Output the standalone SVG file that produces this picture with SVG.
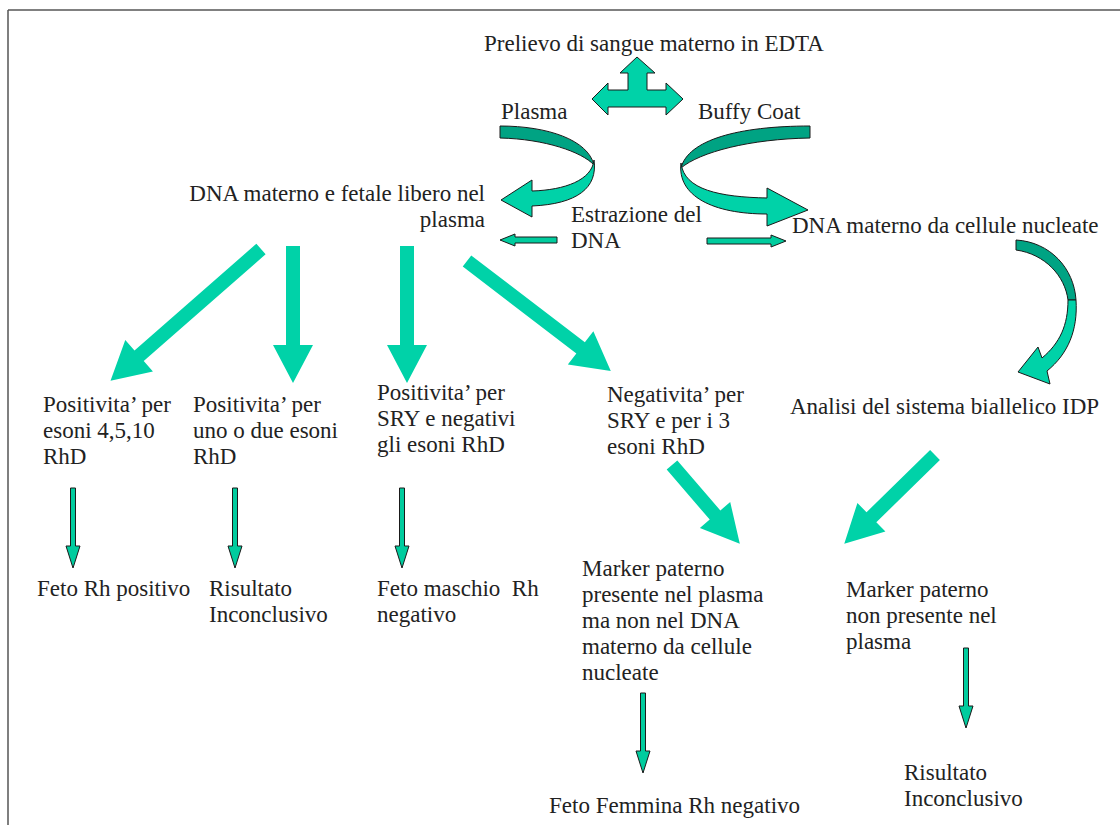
<svg xmlns="http://www.w3.org/2000/svg" xmlns:xlink="http://www.w3.org/1999/xlink" width="1120" height="825" viewBox="0 0 1120 825">
<style>
text{font-family:"Liberation Serif","Times New Roman",serif;font-size:23px;fill:#222}
.big{fill:#00D2A8}
.sm{fill:#00CC9E;stroke:#1a1a1a;stroke-width:1}
.dk{fill:#00A383;stroke:#1a1a1a;stroke-width:1}
.lt{fill:#00D2A8;stroke:#1a1a1a;stroke-width:1}
</style>
<defs>
<path id="sa" d="M-2.5,0 L2.5,0 L2.5,58 L7,58 L0,80 L-7,58 L-2.5,58 Z"/>
</defs>
<rect width="1120" height="825" fill="#fff"/>
<line x1="8" y1="10" x2="1120" y2="10" stroke="#808080" stroke-width="2"/>
<line x1="8" y1="10" x2="8" y2="825" stroke="#555" stroke-width="1.5"/>

<g id="connectors">
  <path class="lt" d="M637,57 L655,73 L647,73 L647,90 L666,90 L666,83 L683,99 L666,115 L666,107 L608,107 L608,115 L592,99 L608,83 L608,90 L628,90 L628,73 L620,73 Z"/>
  <!-- Plasma curved arrow -->
  <path class="dk" d="M500,126 C548,126 588,140 594,165 C582,152 545,139 500,138 Z"/>
  <path class="lt" d="M594,160 C592,180 565,190 532,191 L532,180 L501,200 L532,217 L532,206 C577,204 598,188 594,160 Z"/>
  <!-- Buffy coat curved arrow -->
  <path class="dk" d="M810,126 C738,126 688,140 681,168 C700,152 750,139 810,138 Z"/>
  <path class="lt" d="M681,163 C684,190 720,197 767,198 L767,188 L808,210 L767,226 L767,214 C713,214 677,196 681,163 Z"/>
  <!-- extraction arrows -->
  <path class="sm" d="M557,237 L515,237 L515,234 L500,240 L515,246 L515,243 L557,243 Z"/>
  <path class="sm" d="M707,238 L771,238 L771,235 L786,241 L771,247 L771,244 L707,244 Z"/>
  <!-- right curved arrow -->
  <path class="dk" d="M1016,240 C1050,242 1074,268 1076,300 L1068,300 C1065,276 1045,254 1016,250 Z"/>
  <path class="lt" d="M1068,300 C1068,325 1060,343 1042,358 L1038,347 L1018,372 L1050,384 L1047,371 C1068,354 1078,330 1076,300 Z"/>
  <!-- big arrows -->
  <polygon class="big" transform="translate(261,249) rotate(138.8)" points="0,-7 162,-7 162,-21 200,0 162,21 162,7 0,7"/>
  <polygon class="big" transform="translate(293,246) rotate(90)" points="0,-7 99,-7 99,-20 137,0 99,20 99,7 0,7"/>
  <polygon class="big" transform="translate(407,246) rotate(90)" points="0,-7 99,-7 99,-20 137,0 99,20 99,7 0,7"/>
  <polygon class="big" transform="translate(467,261) rotate(37.4)" points="0,-7 143,-7 143,-21 181,0 143,21 143,7 0,7"/>
  <polygon class="big" transform="translate(672,465) rotate(49.3)" points="0,-7 66,-7 66,-20 104,0 66,20 66,7 0,7"/>
  <polygon class="big" transform="translate(935,455) rotate(135.6)" points="0,-7 89,-7 89,-20 127,0 89,20 89,7 0,7"/>
  <!-- small arrows -->
  <use href="#sa" class="sm" x="73" y="488"/>
  <use href="#sa" class="sm" x="235" y="488"/>
  <use href="#sa" class="sm" x="402" y="488"/>
  <use href="#sa" class="sm" x="643" y="693"/>
  <use href="#sa" class="sm" x="966" y="648"/>
</g>

<g id="n-prelievo"><text x="484" y="51">Prelievo di sangue materno in EDTA</text></g>
<g id="n-plasma"><text x="501" y="119">Plasma</text></g>
<g id="n-buffy"><text x="698" y="119">Buffy Coat</text></g>
<g id="n-dnalibero"><text x="485" y="201" text-anchor="end">DNA materno e fetale libero nel</text><text x="485" y="227" text-anchor="end">plasma</text></g>
<g id="n-estrazione"><text x="571" y="222">Estrazione del</text><text x="571" y="248">DNA</text></g>
<g id="n-dnacellule"><text x="792" y="233">DNA materno da cellule nucleate</text></g>
<g id="n-pos1"><text x="43" y="412">Positivita’ per</text><text x="43" y="438">esoni 4,5,10</text><text x="43" y="464">RhD</text></g>
<g id="n-pos2"><text x="193" y="412">Positivita’ per</text><text x="193" y="438">uno o due esoni</text><text x="193" y="464">RhD</text></g>
<g id="n-pos3"><text x="377" y="400">Positivita’ per</text><text x="377" y="426">SRY e negativi</text><text x="377" y="452">gli esoni RhD</text></g>
<g id="n-neg"><text x="607" y="402">Negativita’ per</text><text x="607" y="428">SRY e per i 3</text><text x="607" y="454">esoni RhD</text></g>
<g id="n-analisi"><text x="790" y="414">Analisi del sistema biallelico IDP</text></g>
<g id="n-fetopos"><text x="37" y="596">Feto Rh positivo</text></g>
<g id="n-inconcl1"><text x="209" y="596">Risultato</text><text x="209" y="622">Inconclusivo</text></g>
<g id="n-maschio"><text x="377" y="596">Feto maschio&#160; Rh</text><text x="377" y="622">negativo</text></g>
<g id="n-marker1"><text x="582" y="576">Marker paterno</text><text x="582" y="602">presente nel plasma</text><text x="582" y="628">ma non nel DNA</text><text x="582" y="654">materno da cellule</text><text x="582" y="680">nucleate</text></g>
<g id="n-marker2"><text x="846" y="597">Marker paterno</text><text x="846" y="623">non presente nel</text><text x="846" y="649">plasma</text></g>
<g id="n-femmina"><text x="549" y="813">Feto Femmina Rh negativo</text></g>
<g id="n-inconcl2"><text x="904" y="780">Risultato</text><text x="904" y="806">Inconclusivo</text></g>
</svg>
